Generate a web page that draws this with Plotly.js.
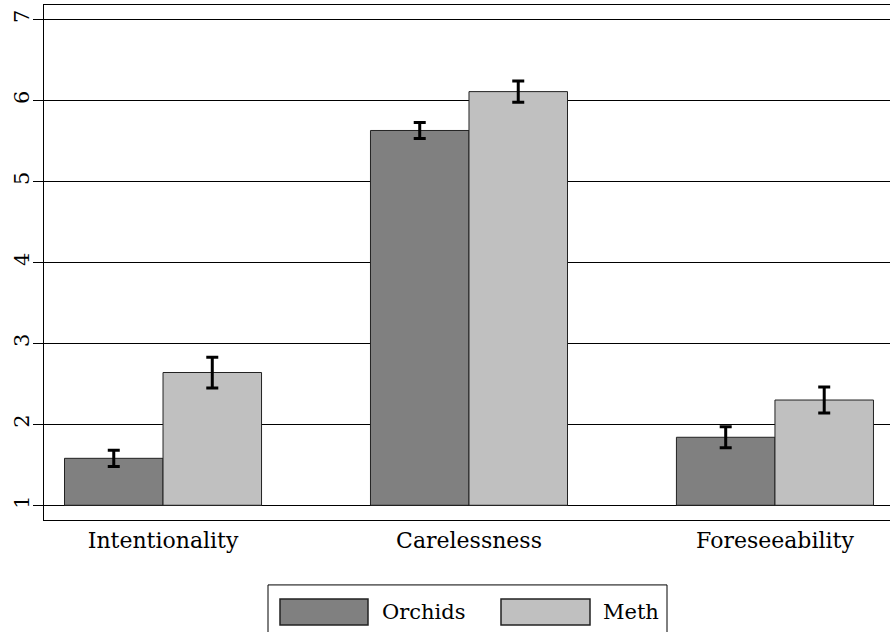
<!DOCTYPE html>
<html>
<head>
<meta charset="utf-8">
<script src="https://cdn.plot.ly/plotly-3.0.1.min.js"></script>
<style>
html,body{margin:0;padding:0;background:#fff;}
#chart{width:890px;height:632px;}
</style>
</head>
<body>
<div id="chart"></div>
<script>
var categories = ["Intentionality", "Carelessness", "Foreseeability"];
var seriesNames = ["Orchids", "Meth"];
var orchidsMeans = [1.58, 5.63, 1.84];
var orchidsErr = [0.10, 0.10, 0.13];
var methMeans = [2.64, 6.11, 2.30];
var methErr = [0.19, 0.13, 0.16];
var yTicks = [1, 2, 3, 4, 5, 6, 7];
var baseline = 1;

var FONT = "'DejaVu Serif', serif";
var colors = ["#808080", "#c0c0c0"];

function barTrace(name, means, errs, color) {
  return {
    type: "bar",
    name: name,
    x: categories,
    y: means.map(function (v) { return v - baseline; }),
    base: baseline,
    marker: {color: color, line: {color: "#222", width: 1}},
    error_y: {type: "data", array: errs, visible: true, color: "#000", thickness: 3, width: 6}
  };
}

var data = [
  barTrace(seriesNames[0], orchidsMeans, orchidsErr, colors[0]),
  barTrace(seriesNames[1], methMeans, methErr, colors[1])
];

var H = 515.5, W = 846;
function px(x) { return (x - 44) / W; }
function py(y) { return -(y - 520) / H; }

var layout = {
  width: 890, height: 632,
  margin: {l: 44, r: 0, t: 4.5, b: 112},
  paper_bgcolor: "#fff", plot_bgcolor: "#fff",
  showlegend: false,
  barmode: "group",
  bargap: 0.356,
  bargroupgap: 0,
  font: {family: FONT, color: "#000"},
  xaxis: {
    type: "category",
    range: [-0.389, 2.376],
    showgrid: false,
    showline: true, linecolor: "#000", linewidth: 1.2, mirror: true,
    ticks: "", tickfont: {family: FONT, size: 22, color: "#000"},
    zeroline: false
  },
  yaxis: {
    range: [0.818, 7.18],
    tickvals: yTicks,
    ticktext: yTicks.map(String),
    tickangle: -90,
    ticks: "outside", ticklen: 10, tickcolor: "#000", tickwidth: 1,
    ticklabelstandoff: -5,
    tickfont: {family: FONT, size: 21, color: "#000"},
    showgrid: true, gridcolor: "#000", gridwidth: 1,
    showline: true, linecolor: "#000", linewidth: 1.2, mirror: true,
    zeroline: false
  },
  shapes: [
    {type: "rect", xref: "paper", yref: "paper", x0: px(268), x1: px(667), y0: py(660), y1: py(585), line: {color: "#000", width: 1}, fillcolor: "rgba(0,0,0,0)"},
    {type: "rect", xref: "paper", yref: "paper", x0: px(280), x1: px(368), y0: py(625), y1: py(599), line: {color: "#222", width: 1.5}, fillcolor: colors[0]},
    {type: "rect", xref: "paper", yref: "paper", x0: px(501), x1: px(590), y0: py(625), y1: py(599), line: {color: "#222", width: 1.5}, fillcolor: colors[1]}
  ],
  annotations: [
    {xref: "paper", yref: "paper", x: px(380), y: py(612), xanchor: "left", yanchor: "middle", text: seriesNames[0], showarrow: false, font: {family: FONT, size: 21, color: "#000"}},
    {xref: "paper", yref: "paper", x: px(601), y: py(612), xanchor: "left", yanchor: "middle", text: seriesNames[1], showarrow: false, font: {family: FONT, size: 21, color: "#000"}}
  ]
};

Plotly.newPlot("chart", data, layout, {displayModeBar: false, staticPlot: true});
</script>
</body>
</html>
